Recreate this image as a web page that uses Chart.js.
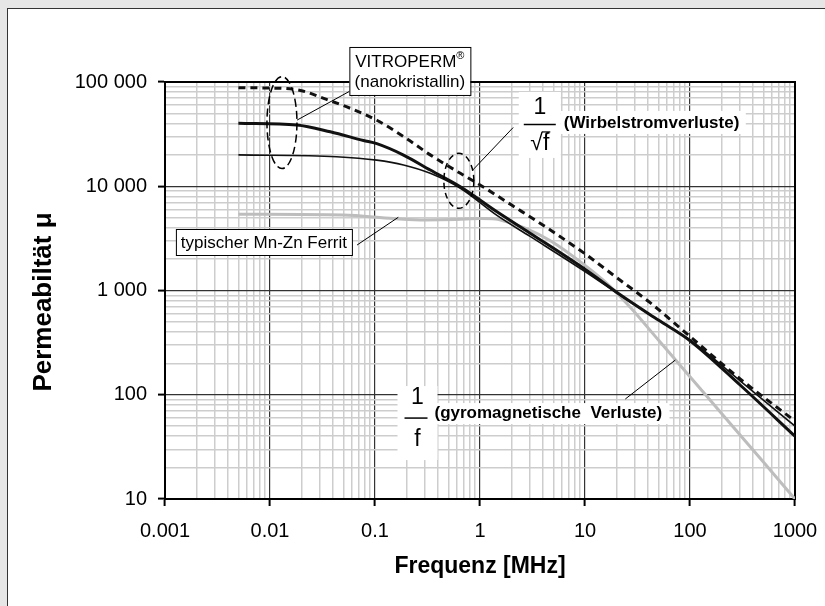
<!DOCTYPE html>
<html>
<head>
<meta charset="utf-8">
<script src="https://cdn.jsdelivr.net/npm/chart.js@4.4.1/dist/chart.umd.min.js"></script>
<style>
    html, body { margin: 0; padding: 0; background: #e6e6e6; }
    #permChart { display: block; }
</style>
</head>
<body>
<canvas id="permChart" width="825" height="606"></canvas>
<script>
const FONT = "'Liberation Sans', Arial, sans-serif";

// Achsen
const xTicks = [0.001, 0.01, 0.1, 1, 10, 100, 1000];
const xTickLabels = ["0.001", "0.01", "0.1", "1", "10", "100", "1000"];
const yTicks = [10, 100, 1000, 10000, 100000];
const yTickLabels = ["10", "100", "1 000", "10 000", "100 000"];

// VITROPERM (gestrichelt, hoechste Permeabilitaet)
const fVitroHigh  = [0.005, 0.01, 0.0195, 0.032, 0.058, 0.104, 0.187, 0.336, 0.65, 1, 2, 4.68, 10, 20, 42, 93, 300, 1000];
const muVitroHigh = [88000, 87500, 83000, 70000, 56000, 43000, 30000, 20000, 13300, 10300, 6600, 3800, 2250, 1330, 760, 385, 142, 56];

// VITROPERM (dicke Linie)
const fVitroMid  = [0.005, 0.018, 0.0375, 0.0776, 0.104, 0.187, 0.336, 0.65, 1.45, 3, 10, 22, 50, 100, 300, 1000];
const muVitroMid = [40200, 38600, 33300, 27500, 25600, 19900, 14300, 9900, 5700, 3550, 1600, 900, 520, 330, 124, 40];

// VITROPERM (duenne Linie)
const fVitroLow  = [0.005, 0.043, 0.104, 0.187, 0.336, 0.65, 1.45, 3, 10, 22, 50, 100, 300, 1000];
const muVitroLow = [20000, 19200, 17800, 16000, 13300, 9560, 5250, 3300, 1520, 890, 520, 335, 136, 50];

// typischer Mn-Zn Ferrit (grau)
const fFerrit  = [0.005, 0.05, 0.15, 0.3, 0.6, 1.0, 1.4, 2.0, 2.8, 4.68, 9.6, 15, 20, 27, 50, 100, 200, 500, 1000];
const muFerrit = [5400, 5300, 4900, 4750, 4800, 4900, 4850, 4400, 3900, 3000, 1800, 1250, 950, 690, 335, 149, 66, 22.6, 10];

function punkte(f, mu) {
    return f.map((x, i) => ({ x: x, y: mu[i] }));
}

function gitterWerte(dekaden) {
    const werte = [];
    dekaden.forEach((d, i) => {
        werte.push(d);
        if (i < dekaden.length - 1) {
            for (let m = 2; m <= 9; m++) werte.push(d * m);
        }
    });
    return werte;
}

const istDekade = v => Math.abs(Math.log10(v) - Math.round(Math.log10(v))) < 1e-9;

function gitter() {
    return {
        color: c => istDekade(c.tick.value) ? '#333' : '#cdcdcd',
        lineWidth: c => istDekade(c.tick.value) ? 1.2 : 1.5,
        tickColor: c => istDekade(c.tick.value) ? '#000' : 'rgba(0,0,0,0)',
        tickLength: 7,
        tickWidth: 2,
        drawTicks: true
    };
}

// Rahmen um das ganze Bild, Achsentitel links
const rahmenPlugin = {
    id: 'rahmen',
    beforeDraw(chart) {
        const c = chart.ctx;
        c.save();
        c.fillStyle = '#e6e6e6';
        c.fillRect(0, 0, chart.width, chart.height);
        c.fillStyle = '#fff';
        c.fillRect(7.5, 8.5, chart.width, chart.height);
        c.strokeStyle = '#333';
        c.lineWidth = 1;
        c.strokeRect(7.5, 8.5, chart.width, chart.height);

        c.translate(44, 302);
        c.rotate(-Math.PI / 2);
        c.fillStyle = '#000';
        c.font = 'bold 26px ' + FONT;
        c.textAlign = 'center';
        c.textBaseline = 'middle';
        c.fillText('Permeabiltät μ', 0, 0);
        c.restore();
    },
    beforeDatasetsDraw(chart) {
        const a = chart.chartArea;
        const c = chart.ctx;
        c.save();
        c.strokeStyle = '#000';
        c.lineWidth = 2;
        c.strokeRect(a.left, a.top, a.right - a.left, a.bottom - a.top);
        c.restore();
    }
};

// Beschriftungen im Diagramm
const beschriftungPlugin = {
    id: 'beschriftung',
    afterDraw(chart) {
        const c = chart.ctx;
        const sx = chart.scales.x, sy = chart.scales.y;
        const px = f => sx.getPixelForValue(f);
        const py = mu => sy.getPixelForValue(mu);

        c.save();
        c.strokeStyle = '#000';
        c.fillStyle = '#000';

        // gestrichelte Ellipsen
        c.lineWidth = 1.5;
        c.setLineDash([8, 4]);
        c.beginPath();
        c.ellipse(px(0.013), py(40800), 15, 46, 0, 0, Math.PI * 2);
        c.stroke();
        c.setLineDash([6, 4]);
        c.beginPath();
        c.ellipse(px(0.629), py(11270), 15, 27.5, 0, 0, Math.PI * 2);
        c.stroke();
        c.setLineDash([]);

        // Hinweislinien
        c.lineWidth = 1;
        [
            [0.0603, 83800, 0.0181, 43100],
            [2.07, 36600, 0.853, 14300],
            [0.0675, 2730, 0.1667, 5040],
            [24.2, 91, 72.4, 215]
        ].forEach(l => {
            c.beginPath();
            c.moveTo(px(l[0]), py(l[1]));
            c.lineTo(px(l[2]), py(l[3]));
            c.stroke();
        });

        c.textBaseline = 'middle';

        // VITROPERM Kasten
        let x0 = px(0.057), y0 = py(216800);
        c.fillStyle = '#fff';
        c.fillRect(x0, y0, 121, 48);
        c.lineWidth = 1;
        c.strokeRect(x0 + 0.5, y0 + 0.5, 121, 48);
        c.fillStyle = '#000';
        c.font = '17px ' + FONT;
        c.textAlign = 'left';
        const wV = c.measureText('VITROPERM').width;
        c.font = '11px ' + FONT;
        const wR = c.measureText('®').width;
        const vx = x0 + 60.5 - (wV + wR) / 2;
        c.font = '17px ' + FONT;
        c.fillText('VITROPERM', vx, y0 + 15);
        c.font = '11px ' + FONT;
        c.fillText('®', vx + wV, y0 + 9);
        c.font = '17px ' + FONT;
        c.textAlign = 'center';
        c.fillText('(nanokristallin)', x0 + 60.5, y0 + 35);

        // Ferrit Kasten
        x0 = px(0.00127); y0 = py(3890);
        c.fillStyle = '#fff';
        c.fillRect(x0, y0, 176, 26);
        c.strokeRect(x0 + 0.5, y0 + 0.5, 176, 26);
        c.fillStyle = '#000';
        c.fillText('typischer Mn-Zn Ferrit', x0 + 88, y0 + 14);

        // 1/sqrt(f)
        let ax = px(3.71), ay = py(56400);
        c.fillStyle = '#fff';
        c.fillRect(ax - 21, ay - 16, 42, 66);
        c.fillRect(ax + 21, ay + 3, 185, 23);
        c.fillStyle = '#000';
        c.font = '23px ' + FONT;
        c.textAlign = 'center';
        c.fillText('1', ax, ay);
        c.lineWidth = 1.5;
        c.beginPath();
        c.moveTo(ax - 16, ay + 16.5);
        c.lineTo(ax + 16, ay + 16.5);
        c.stroke();
        const wW = c.measureText('√f').width;
        const wRad = c.measureText('√').width;
        c.textAlign = 'left';
        c.fillText('√f', ax - wW / 2, ay + 36);
        c.lineWidth = 1.2;
        c.beginPath();
        c.moveTo(ax - wW / 2 + wRad - 1, ay + 24);
        c.lineTo(ax + wW / 2 + 1, ay + 24);
        c.stroke();
        c.font = 'bold 17px ' + FONT;
        c.fillText('(Wirbelstromverluste)', ax + 24, ay + 15);

        // 1/f
        ax = px(0.254); ay = py(95);
        c.fillStyle = '#fff';
        c.fillRect(ax - 20, ay - 11, 40, 74);
        c.fillRect(ax + 14, ay + 6, 238, 21);
        c.fillStyle = '#000';
        c.font = '23px ' + FONT;
        c.textAlign = 'center';
        c.fillText('1', ax, ay + 1);
        c.lineWidth = 1.5;
        c.beginPath();
        c.moveTo(ax - 13, ay + 21);
        c.lineTo(ax + 10, ay + 21);
        c.stroke();
        c.fillText('f', ax, ay + 43);
        c.textAlign = 'left';
        c.font = 'bold 17px ' + FONT;
        c.fillText('(gyromagnetische  Verluste)', ax + 17, ay + 16);

        c.restore();
    }
};

const ctx = document.getElementById('permChart').getContext('2d');
const permChart = new Chart(ctx, {
    type: 'scatter',
    data: {
        datasets: [
            {
                data: punkte(fVitroHigh, muVitroHigh),
                borderColor: '#111',
                borderWidth: 3,
                borderDash: [7, 5]
            },
            {
                data: punkte(fVitroMid, muVitroMid),
                borderColor: '#111',
                borderWidth: 3
            },
            {
                data: punkte(fVitroLow, muVitroLow),
                borderColor: '#111',
                borderWidth: 1.6
            },
            {
                data: punkte(fFerrit, muFerrit),
                borderColor: '#bdbdbd',
                borderWidth: 3
            }
        ]
    },
    options: {
        responsive: false,
        animation: false,
        showLine: true,
        layout: { padding: { left: 8, right: 30, top: 82, bottom: 0 } },
        elements: {
            point: { radius: 0, hoverRadius: 0 },
            line: { tension: 0.4, cubicInterpolationMode: 'monotone', fill: false }
        },
        plugins: {
            legend: { display: false },
            tooltip: { enabled: false }
        },
        scales: {
            x: {
                type: 'logarithmic',
                position: 'bottom',
                min: 0.001,
                max: 1000,
                afterBuildTicks: s => { s.ticks = gitterWerte(xTicks).map(v => ({ value: v })); },
                afterFit: s => { s.height = 107; s.paddingLeft = 0; s.paddingRight = 0; },
                ticks: {
                    autoSkip: false,
                    maxRotation: 0,
                    minRotation: 0,
                    padding: 13,
                    color: '#000',
                    font: { family: FONT, size: 20 },
                    callback: v => { const i = xTicks.indexOf(v); return i >= 0 ? xTickLabels[i] : ''; }
                },
                grid: gitter(),
                border: { color: '#000', width: 2 },
                title: {
                    display: true,
                    text: 'Frequenz [MHz]',
                    color: '#000',
                    font: { family: FONT, size: 23, weight: 'bold' },
                    padding: { top: 0, bottom: 26 }
                }
            },
            y: {
                type: 'logarithmic',
                min: 10,
                max: 100000,
                afterBuildTicks: s => { s.ticks = gitterWerte(yTicks).map(v => ({ value: v })); },
                afterFit: s => { s.width = 157; s.paddingTop = 0; s.paddingBottom = 0; },
                ticks: {
                    autoSkip: false,
                    padding: 11,
                    color: '#000',
                    font: { family: FONT, size: 20 },
                    callback: v => { const i = yTicks.indexOf(v); return i >= 0 ? yTickLabels[i] : ''; }
                },
                grid: gitter(),
                border: { color: '#000', width: 2 }
            }
        }
    },
    plugins: [rahmenPlugin, beschriftungPlugin]
});
</script>
</body>
</html>
